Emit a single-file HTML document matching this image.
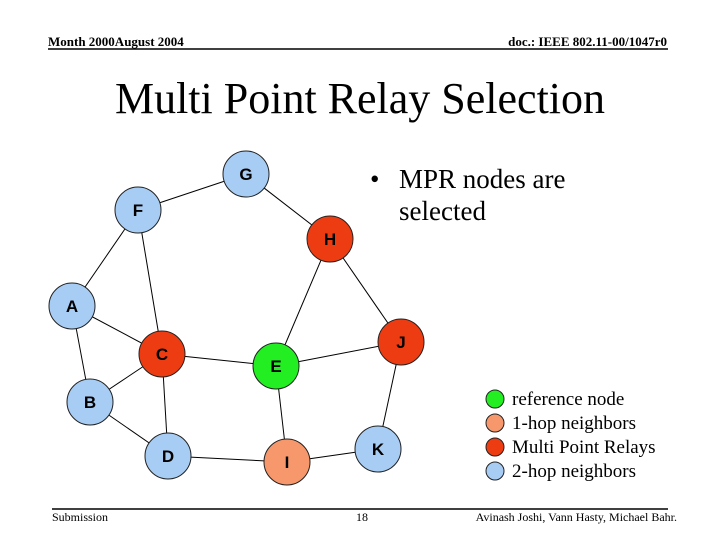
<!DOCTYPE html>
<html><head><meta charset="utf-8"><style>
body{margin:0;background:#fff;}
svg{display:block;}
</style></head><body>
<svg width="720" height="540" xmlns="http://www.w3.org/2000/svg">
<rect width="720" height="540" fill="#fff"/>
<g font-family="Liberation Serif, serif">
<text x="48" y="46" font-size="13" font-weight="bold">Month 2000August 2004</text>
<text x="667" y="46" font-size="13" font-weight="bold" text-anchor="end">doc.: IEEE 802.11-00/1047r0</text>
<line x1="48" y1="49" x2="668" y2="49" stroke="#000" stroke-width="1.5"/>
<text x="360" y="113" font-size="44" text-anchor="middle">Multi Point Relay Selection</text>
<text x="370" y="188" font-size="27">•</text>
<text x="399" y="188" font-size="27">MPR nodes are</text>
<text x="399" y="220" font-size="27">selected</text>
<text x="512" y="405" font-size="19">reference node</text>
<text x="512" y="429" font-size="19">1-hop neighbors</text>
<text x="512" y="453" font-size="19">Multi Point Relays</text>
<text x="512" y="477" font-size="19">2-hop neighbors</text>
<line x1="52" y1="509" x2="668" y2="509" stroke="#000" stroke-width="1.5"/>
<text x="52" y="521" font-size="12">Submission</text>
<text x="362" y="521" font-size="12" text-anchor="middle">18</text>
<text x="677" y="521" font-size="12" text-anchor="end">Avinash Joshi, Vann Hasty, Michael Bahr.</text>
</g>
<g stroke="#000" stroke-width="1">
<line x1="246" y1="174" x2="138" y2="210"/>
<line x1="246" y1="174" x2="330" y2="239"/>
<line x1="138" y1="210" x2="72" y2="306"/>
<line x1="138" y1="210" x2="162" y2="354"/>
<line x1="72" y1="306" x2="162" y2="354"/>
<line x1="72" y1="306" x2="90" y2="402"/>
<line x1="90" y1="402" x2="162" y2="354"/>
<line x1="90" y1="402" x2="168" y2="456"/>
<line x1="162" y1="354" x2="168" y2="456"/>
<line x1="162" y1="354" x2="276" y2="366"/>
<line x1="330" y1="239" x2="276" y2="366"/>
<line x1="330" y1="239" x2="401" y2="342"/>
<line x1="276" y1="366" x2="401" y2="342"/>
<line x1="276" y1="366" x2="287" y2="462"/>
<line x1="401" y1="342" x2="378" y2="449"/>
<line x1="168" y1="456" x2="287" y2="462"/>
<line x1="287" y1="462" x2="378" y2="449"/>
</g>
<g stroke="#222" stroke-width="1" font-family="Liberation Sans, sans-serif" font-weight="bold" font-size="17" text-anchor="middle">
<circle cx="246" cy="174" r="23" fill="#a8cdf4"/>
<circle cx="138" cy="210" r="23" fill="#a8cdf4"/>
<circle cx="330" cy="239" r="23" fill="#ee3c12"/>
<circle cx="72" cy="306" r="23" fill="#a8cdf4"/>
<circle cx="162" cy="354" r="23" fill="#ee3c12"/>
<circle cx="276" cy="366" r="23" fill="#22ee22"/>
<circle cx="401" cy="342" r="23" fill="#ee3c12"/>
<circle cx="90" cy="402" r="23" fill="#a8cdf4"/>
<circle cx="168" cy="456" r="23" fill="#a8cdf4"/>
<circle cx="287" cy="462" r="23" fill="#f7976c"/>
<circle cx="378" cy="449" r="23" fill="#a8cdf4"/>
<circle cx="495" cy="399" r="9" fill="#22ee22"/>
<circle cx="495" cy="423" r="9" fill="#f7976c"/>
<circle cx="495" cy="447" r="9" fill="#ee3c12"/>
<circle cx="495" cy="471" r="9" fill="#a8cdf4"/>
<g stroke="none" fill="#000">
<text x="246" y="180">G</text><text x="138" y="216">F</text><text x="330" y="245">H</text>
<text x="72" y="312">A</text><text x="162" y="360">C</text><text x="276" y="372">E</text>
<text x="401" y="348">J</text><text x="90" y="408">B</text><text x="168" y="462">D</text>
<text x="287" y="468">I</text><text x="378" y="455">K</text>
</g>
</g>
</svg>
</body></html>
